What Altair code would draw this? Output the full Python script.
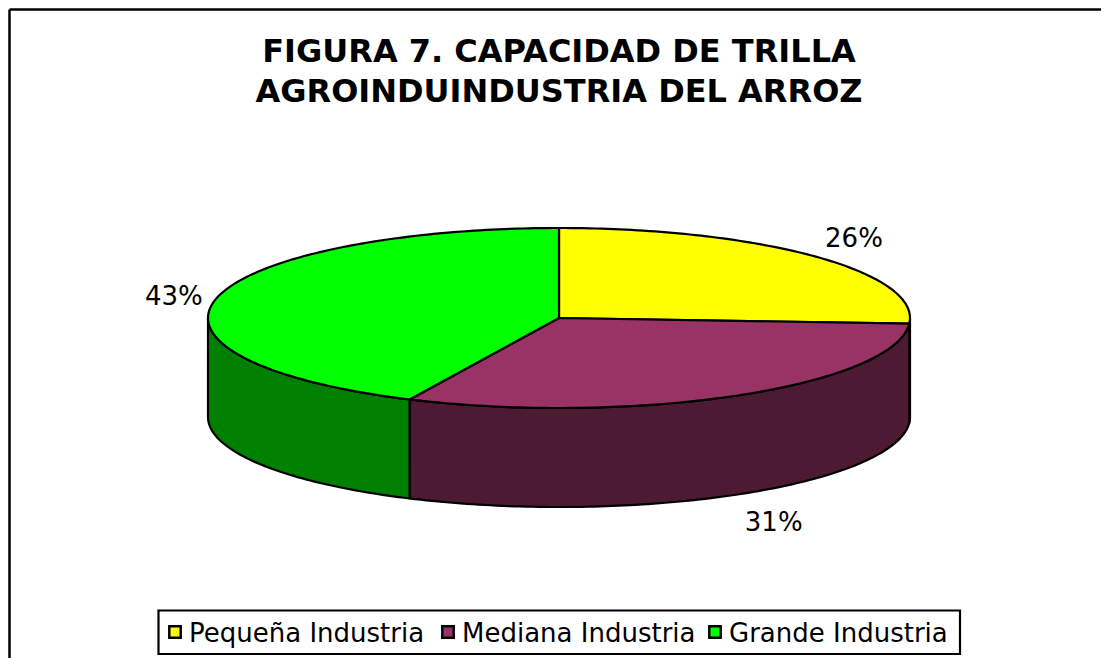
import numpy as np
import pandas as pd
import altair as alt

# ---- data ----
categories = ["Pequeña Industria", "Mediana Industria", "Grande Industria"]
shares = [26, 31, 43]
pct_labels = ["26%", "31%", "43%"]
top_colors = ["#FFFF00", "#993366", "#00FF00"]
side_colors = ["#808000", "#4C1A33", "#008000"]
title_lines = ["FIGURA 7. CAPACIDAD DE TRILLA", "AGROINDUINDUSTRIA DEL ARROZ"]

# ---- layout (page pixel units) ----
W, H = 1093, 650
CX, CY, RX, RY, DEPTH = 559, 318, 351, 90, 99


def pt(t_deg, dy=0.0):
    t = np.radians(t_deg)
    return CX + RX * np.sin(t), CY - RY * np.cos(t) + dy


def arc(a, b):
    n = max(2, int(abs(b - a)) + 2)
    return np.linspace(a, b, n)


total = float(sum(shares))
cum = np.concatenate([[0.0], np.cumsum(shares)]) / total * 360.0

rows_top, rows_side, lab_rows = [], [], []
for i, cat in enumerate(categories):
    t0, t1 = cum[i], cum[i + 1]
    # top face
    pts = [(CX, CY)] + [pt(t) for t in arc(t0, t1)] + [(CX, CY)]
    for k, (x, y) in enumerate(pts):
        rows_top.append({"poly": f"top{i}", "k": k, "x": x, "y": y})
    # visible side face (front half: 90..270 deg)
    a, b = max(t0, 90.0), min(t1, 270.0)
    if a < b:
        upper = [pt(t) for t in arc(a, b)]
        lower = [pt(t, DEPTH) for t in arc(b, a)]
        pts = upper + lower + [upper[0]]
        for k, (x, y) in enumerate(pts):
            rows_side.append({"poly": f"side{i}", "k": k, "x": x, "y": y})
    # percentage label, placed just outside the slice
    tm = np.radians((t0 + t1) / 2)
    s, c = np.sin(tm), np.cos(tm)
    lx = CX + (RX + 14) * s
    ly = CY - RY * c + (DEPTH if c < 0 else 0) - 38 * c * abs(c)
    al = "left" if s > 0.3 else ("right" if s < -0.3 else "center")
    lab_rows.append({"x": lx, "y": ly, "label": pct_labels[i], "align": al})

df_top = pd.DataFrame(rows_top)
df_side = pd.DataFrame(rows_side)
df_lab = pd.DataFrame(lab_rows)

xs = alt.Scale(domain=[8, 8 + W], nice=False, zero=False)
ys = alt.Scale(domain=[8, 8 + H], nice=False, zero=False, reverse=True)
X = lambda f="x": alt.X(f"{f}:Q", scale=xs, axis=None)
Y = lambda f="y": alt.Y(f"{f}:Q", scale=ys, axis=None)

poly_dom = [f"side{i}" for i in range(3)] + [f"top{i}" for i in range(3)]
poly_rng = side_colors + top_colors
fill_enc = alt.Fill("poly:N", scale=alt.Scale(domain=poly_dom, range=poly_rng), legend=None)

sides = alt.Chart(df_side).mark_line(stroke="black", strokeWidth=2.2, strokeJoin="round").encode(
    x=X(), y=Y(), fill=fill_enc, detail="poly:N", order="k:Q"
)
tops = alt.Chart(df_top).mark_line(stroke="black", strokeWidth=2.2, strokeJoin="round").encode(
    x=X(), y=Y(), fill=fill_enc, detail="poly:N", order="k:Q"
)

label_layers = []
for al in ["left", "right", "center"]:
    sub = df_lab[df_lab["align"] == al]
    if len(sub):
        label_layers.append(
            alt.Chart(sub).mark_text(
                font="DejaVu Sans", fontSize=26, color="black", align=al, baseline="middle"
            ).encode(x=X(), y=Y(), text="label:N")
        )

title = alt.Chart(pd.DataFrame({"x": [559], "y": [62], "t": [title_lines]})).mark_text(
    font="DejaVu Sans", fontWeight="bold", fontSize=32, color="black",
    align="center", baseline="alphabetic", lineHeight=40
).encode(x=X(), y=Y(), text="t")

# border (top and left edges visible in the frame)
border = alt.Chart(pd.DataFrame({
    "x": [9.5, 9.5], "x2": [8 + W, 9.5], "y": [9.5, 9.5], "y2": [9.5, 8 + H]
})).mark_rule(color="black", strokeWidth=2.5).encode(
    x=X(), x2="x2:Q", y=Y(), y2="y2:Q"
)

# legend
leg_box = alt.Chart(pd.DataFrame({"x": [158.5], "x2": [960], "y": [610.5], "y2": [654]})).mark_rect(
    fill="white", stroke="black", strokeWidth=2.2
).encode(x=X(), x2="x2:Q", y=Y(), y2="y2:Q")

df_leg = pd.DataFrame({
    "cat": categories,
    "sx": [175, 448, 715],
    "tx": [189, 462, 729],
    "y": [632, 632, 632],
})
df_leg["ty"] = 634
leg_sw = alt.Chart(df_leg).mark_square(size=130, stroke="black", strokeWidth=2.5, opacity=1).encode(
    x=X("sx"), y=Y(),
    fill=alt.Fill("cat:N", scale=alt.Scale(domain=categories, range=top_colors), legend=None),
)
leg_tx = alt.Chart(df_leg).mark_text(
    font="DejaVu Sans", fontSize=26, color="black", align="left", baseline="middle"
).encode(x=X("tx"), y=Y("ty"), text="cat:N")

chart = alt.layer(border, title, sides, tops, *label_layers, leg_box, leg_sw, leg_tx).resolve_scale(
    fill="independent"
).properties(
    width=W, height=H, padding=0, autosize=alt.AutoSizeParams(type="none")
).configure_view(stroke=None)

chart.save("out.html", embed_options={"renderer": "svg", "actions": False})
